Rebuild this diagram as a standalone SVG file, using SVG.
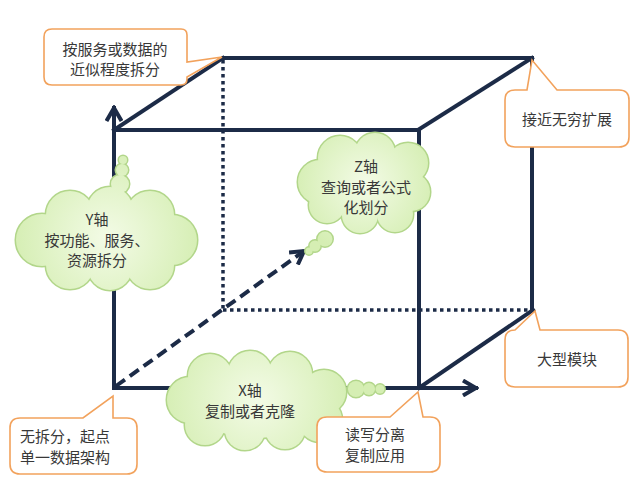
<svg xmlns="http://www.w3.org/2000/svg" xmlns:xlink="http://www.w3.org/1999/xlink" width="640" height="477" viewBox="0 0 640 477">
<style>
.edge{stroke:#1c2b47;stroke-width:4;fill:none;stroke-linecap:square}
.dot{stroke:#1c2b47;stroke-width:3.5;fill:none;stroke-dasharray:3.5 3.5}
.dash{stroke:#1c2b47;stroke-width:4;fill:none;stroke-dasharray:11 6}
.call{fill:#ffffff;stroke:#f2a25c;stroke-width:1.6}
.cs{fill:#b2d68a;stroke:#b2d68a;stroke-width:3}
.t{font-family:"Noto Sans CJK SC","Noto Sans",sans-serif;font-size:15px;fill:#383838}
.m{text-anchor:middle}
</style>
<defs>
<marker id="arr" viewBox="0 0 18 18" refX="15" refY="9" markerWidth="18" markerHeight="18" orient="auto" markerUnits="userSpaceOnUse">
<path d="M2,1.5 L15,9 L2,16.5" fill="none" stroke="#1c2b47" stroke-width="4"/>
</marker>
<radialGradient id="gY" gradientUnits="userSpaceOnUse" cx="107" cy="238" r="95"><stop offset="0" stop-color="#f3fbe6"/><stop offset="1" stop-color="#d5eeb3"/></radialGradient>
<radialGradient id="gZ" gradientUnits="userSpaceOnUse" cx="365" cy="183" r="72"><stop offset="0" stop-color="#f3fbe6"/><stop offset="1" stop-color="#d5eeb3"/></radialGradient>
<radialGradient id="gX" gradientUnits="userSpaceOnUse" cx="257" cy="400" r="95"><stop offset="0" stop-color="#f3fbe6"/><stop offset="1" stop-color="#d5eeb3"/></radialGradient>
<g id="shapeY">
<circle cx="42" cy="240" r="26"/><circle cx="70" cy="215" r="24"/><circle cx="110" cy="210" r="23"/><circle cx="150" cy="215" r="24"/><circle cx="172" cy="240" r="25"/><circle cx="150" cy="265" r="24"/><circle cx="110" cy="268" r="22"/><circle cx="70" cy="265" r="24"/><ellipse cx="107" cy="240" rx="62" ry="36"/>
<circle cx="120" cy="184" r="9"/><circle cx="122" cy="170" r="6"/><circle cx="123" cy="160" r="4"/>
</g>
<g id="shapeZ">
<circle cx="320" cy="182" r="22"/><circle cx="340" cy="158" r="22"/><circle cx="375" cy="153" r="20"/><circle cx="408" cy="163" r="20"/><circle cx="411" cy="192" r="19"/><circle cx="395" cy="214" r="18"/><circle cx="360" cy="215" r="18"/><circle cx="327" cy="205" r="18"/><ellipse cx="365" cy="185" rx="46" ry="32"/>
<circle cx="325" cy="239" r="7.5"/><circle cx="315" cy="246" r="5.5"/><circle cx="309" cy="251" r="3.5"/>
</g>
<g id="shapeX">
<circle cx="190" cy="400" r="23"/><circle cx="210" cy="376" r="22"/><circle cx="250" cy="373" r="22"/><circle cx="290" cy="374" r="22"/><circle cx="324" cy="392" r="22"/><circle cx="320" cy="420" r="22"/><circle cx="285" cy="429" r="20"/><circle cx="245" cy="430" r="20"/><circle cx="205" cy="425" r="20"/><ellipse cx="257" cy="402" rx="66" ry="36"/>
<circle cx="356" cy="389" r="8"/><circle cx="369" cy="389" r="6"/><circle cx="380" cy="389" r="4.5"/>
</g>
</defs>
<rect width="640" height="477" fill="#ffffff"/>
<g id="connectors">
<line class="dot" x1="223" y1="60" x2="223" y2="310"/>
<line class="dot" x1="223" y1="310" x2="532" y2="310"/>
<line class="edge" x1="114" y1="130" x2="418" y2="130"/>
<line class="edge" x1="223" y1="58" x2="532" y2="58"/>
<line class="edge" x1="114" y1="130" x2="223" y2="58"/>
<line class="edge" x1="418" y1="130" x2="532" y2="58"/>
<line class="edge" x1="532" y1="58" x2="532" y2="310"/>
<line class="edge" x1="419" y1="130" x2="419" y2="388"/>
<line class="edge" x1="419" y1="388" x2="533" y2="310"/>
<line class="edge" x1="114" y1="388" x2="114" y2="108" stroke-linecap="butt" marker-end="url(#arr)"/>
<line class="edge" x1="114" y1="388" x2="476" y2="388" stroke-linecap="butt" marker-end="url(#arr)"/>
<line class="dash" x1="116" y1="386" x2="304" y2="251" marker-end="url(#arr)"/>
</g>
<g id="cloud-y">
<use xlink:href="#shapeY" class="cs"/>
<use xlink:href="#shapeY" fill="url(#gY)"/>
<text class="t m" x="97" y="225">Y轴</text>
<text class="t m" x="97" y="246">按功能、服务、</text>
<text class="t m" x="97" y="266">资源拆分</text>
</g>
<g id="cloud-z">
<use xlink:href="#shapeZ" class="cs"/>
<use xlink:href="#shapeZ" fill="url(#gZ)"/>
<text class="t m" x="366" y="172">Z轴</text>
<text class="t m" x="366" y="193">查询或者公式</text>
<text class="t m" x="366" y="213">化划分</text>
</g>
<g id="cloud-x">
<use xlink:href="#shapeX" class="cs"/>
<use xlink:href="#shapeX" fill="url(#gX)"/>
<text class="t m" x="250" y="396">X轴</text>
<text class="t m" x="250" y="417">复制或者克隆</text>
</g>
<g id="note-top-left">
<path class="call" d="M52,29 H181 Q187,29 187,35 V62 L222,57 L187,77 V79 Q187,85 181,85 H52 Q44,85 44,77 V37 Q44,29 52,29 Z"/>
<text class="t m" x="115" y="55">按服务或数据的</text>
<text class="t m" x="115" y="75">近似程度拆分</text>
</g>
<g id="note-top-right">
<path class="call" d="M515,90 H527 L532,60 L557,90 H619 Q629,90 629,100 V137 Q629,147 619,147 H515 Q505,147 505,137 V100 Q505,90 515,90 Z"/>
<text class="t m" x="567" y="125">接近无穷扩展</text>
</g>
<g id="note-mid-right">
<path class="call" d="M505,340 Q505,330 515,330 L535,311 L540,330 H618 Q628,330 628,340 V377 Q628,387 618,387 H515 Q505,387 505,377 Z"/>
<text class="t m" x="567" y="365">大型模块</text>
</g>
<g id="note-bottom-mid">
<path class="call" d="M327,417 H390 L418,392 L423,417 H430 Q440,417 440,427 V462 Q440,472 430,472 H327 Q317,472 317,462 V427 Q317,417 327,417 Z"/>
<text class="t" x="345" y="440">读写分离</text>
<text class="t" x="345" y="461">复制应用</text>
</g>
<g id="note-bottom-left">
<path class="call" d="M20,418 H83 L113,396 L113,418 H127 Q137,418 137,428 V464 Q137,474 127,474 H20 Q10,474 10,464 V428 Q10,418 20,418 Z"/>
<text class="t" x="20" y="442">无拆分，起点</text>
<text class="t" x="20" y="463">单一数据架构</text>
</g>
</svg>
